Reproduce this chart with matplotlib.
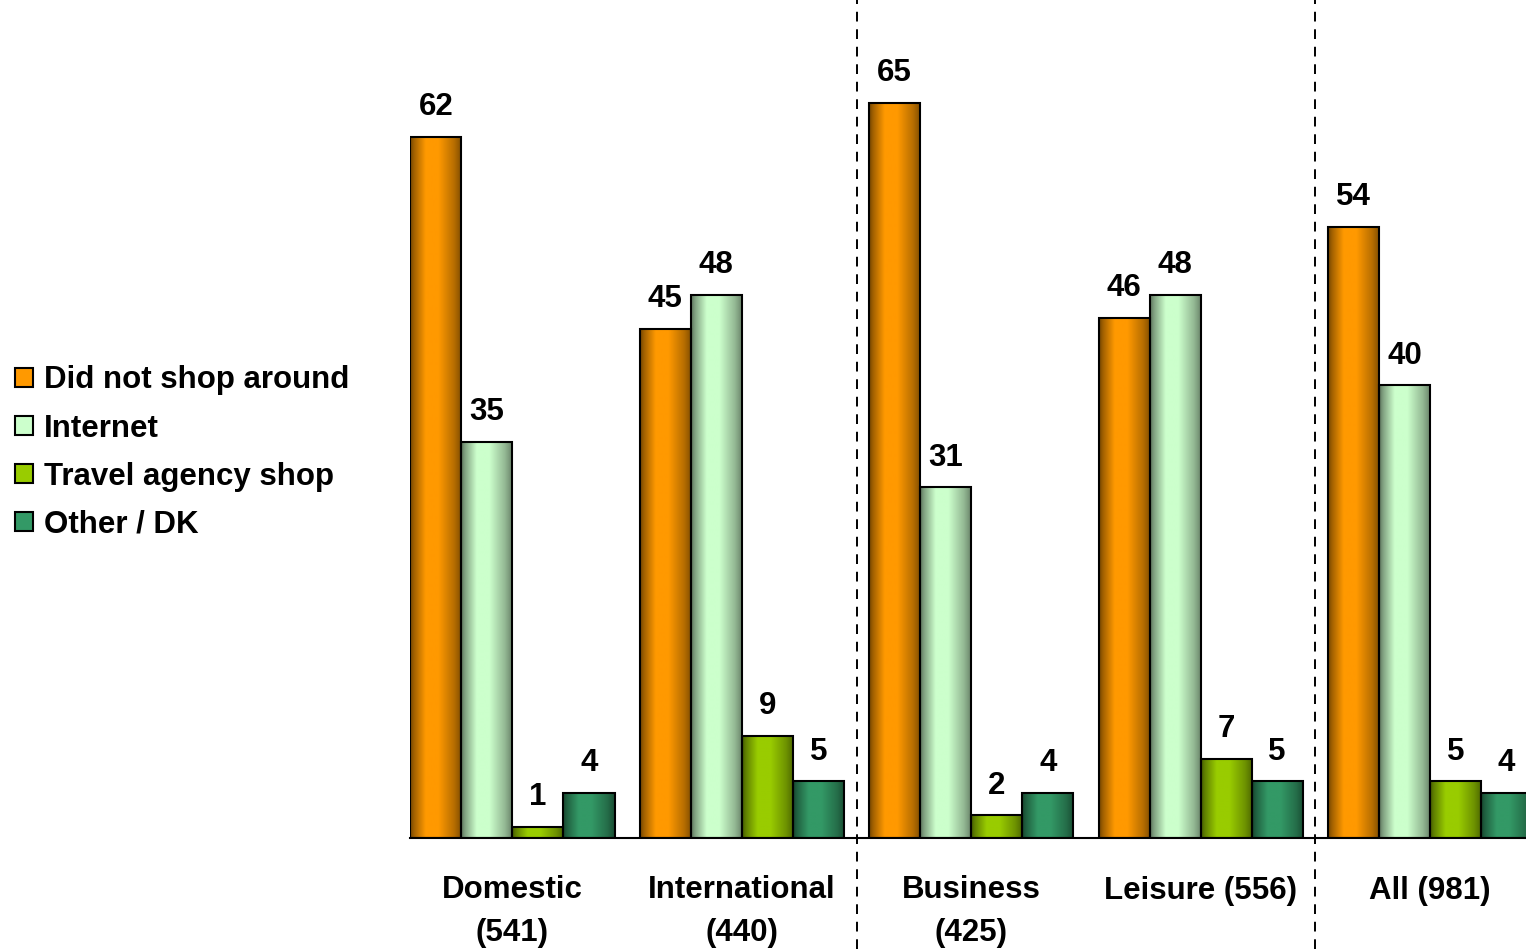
import numpy as np
import matplotlib
matplotlib.use("Agg")
import matplotlib.pyplot as plt
from matplotlib.patches import Patch
from matplotlib.transforms import blended_transform_factory
from matplotlib.colors import to_rgb

plt.rcParams['font.family'] = ['Liberation Sans', 'DejaVu Sans']
plt.rcParams['font.weight'] = 'bold'

categories = ["Domestic\n(541)", "International\n(440)", "Business\n(425)", "Leisure (556)", "All (981)"]
series_names = ["Did not shop around", "Internet", "Travel agency shop", "Other / DK"]
did_not_shop = [62, 45, 65, 46, 54]
internet = [35, 48, 31, 48, 40]
travel_agency = [1, 9, 2, 7, 5]
other_dk = [4, 5, 4, 5, 4]
series_values = [did_not_shop, internet, travel_agency, other_dk]
colors = ["#FF9900", "#CCFFCC", "#99CC00", "#339966"]
separators_after = [1, 3]  # dashed lines between groups

W, H = 1526, 949
fig = plt.figure(figsize=(W / 100, H / 100), dpi=100)
left_px, right_px = 410, 1532.5
base_px, top_px = 838, 46
ax = fig.add_axes([left_px / W, (H - base_px) / H, (right_px - left_px) / W, (base_px - top_px) / H])

n = len(series_values)
bw = 0.2225
x = np.arange(len(categories))

FS = 22.5

# gradient profile across bar width
t = np.linspace(0, 1, 200)
prof = np.interp(t, [0, 0.08, 0.3, 0.55, 0.85, 1.0], [0.45, 0.64, 1.0, 1.0, 0.72, 0.5])

for i, (vals, col) in enumerate(zip(series_values, colors)):
    rgb = np.array(to_rgb(col))
    grad = (prof[:, None] * rgb[None, :])[None, :, :]
    pos = x + (i - (n - 1) / 2) * bw
    bars = ax.bar(pos, vals, width=bw, color=col, edgecolor='none', zorder=2)
    for b, v in zip(bars, vals):
        x0 = b.get_x()
        im = ax.imshow(grad, extent=[x0, x0 + b.get_width(), 0, b.get_height()],
                       aspect='auto', interpolation='bilinear', zorder=2.5)
        im.set_clip_path(b)
        ax.text(x0 + b.get_width() / 2, v + 1.3, f"{v}", ha='center', va='bottom',
                fontsize=FS, fontweight='bold', zorder=4)
    ax.bar(pos, vals, width=bw, fill=False, edgecolor='black', linewidth=1.5, zorder=3)

ax.set_xlim(-0.4465, len(categories) - 1 + 0.4465)
ax.set_ylim(0, 70)

for s in ['top', 'right', 'left']:
    ax.spines[s].set_visible(False)
ax.spines['bottom'].set_linewidth(1.5)
ax.spines['bottom'].set_zorder(5)
ax.set_yticks([])
ax.set_xticks(x)
ax.set_xticklabels(categories, fontsize=FS, fontweight='bold', linespacing=1.53)
ax.tick_params(axis='x', length=0, pad=27)

trans = blended_transform_factory(ax.transData, fig.transFigure)
for s in separators_after:
    ax.plot([s + 0.5, s + 0.5], [0, 1], transform=trans, color='black', lw=1.4,
            linestyle=(0, (5, 4)), clip_on=False, zorder=1)

handles = [Patch(facecolor=c, edgecolor='black', linewidth=1.5) for c in colors]
fig.legend(handles, series_names, loc='center left', bbox_to_anchor=(15 / W, 0.523),
           frameon=False, handlelength=0.56, handleheight=0.56,
           handletextpad=0.36, labelspacing=0.58, borderpad=0, borderaxespad=0,
           prop={'weight': 'bold', 'size': FS})

fig.savefig("out.png", dpi=100)
